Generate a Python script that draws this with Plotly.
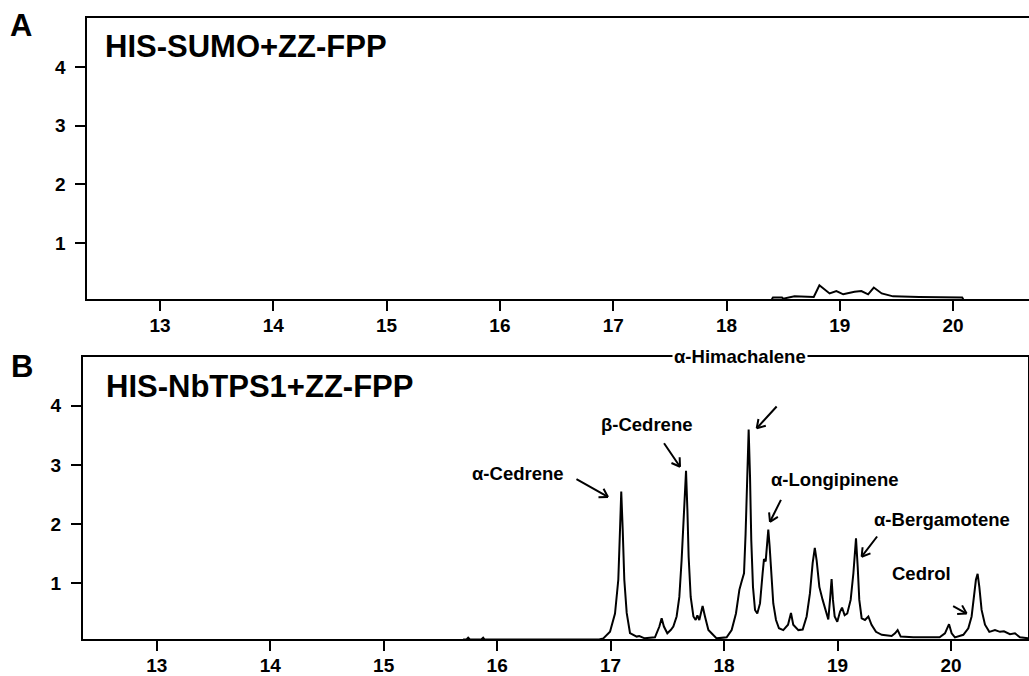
import math
import plotly.graph_objects as go

# ---------------- data ----------------
# Panel A: HIS-SUMO + ZZ-FPP (retention time, min ; abundance)
rt_a = [18.40, 18.41, 18.49, 18.50, 18.60, 18.75, 18.77, 18.82, 18.91, 18.97, 19.03,
        19.13, 19.19, 19.25, 19.30, 19.37, 19.47, 19.70, 20.08, 20.09]
ab_a = [0.04, 0.07, 0.07, 0.05, 0.09, 0.09, 0.08, 0.28, 0.14, 0.18, 0.125,
        0.17, 0.18, 0.125, 0.24, 0.14, 0.09, 0.08, 0.07, 0.04]

# Panel B: HIS-NbTPS1 + ZZ-FPP
rt_b = [15.70, 15.73, 15.745, 15.76, 15.86, 15.877, 15.89, 16.90,
        16.936, 16.995, 17.039, 17.068, 17.083, 17.094, 17.107, 17.121, 17.142, 17.171,
        17.23, 17.253, 17.30, 17.391, 17.43, 17.45, 17.47, 17.50, 17.53,
        17.553, 17.582, 17.606, 17.626, 17.647, 17.665, 17.677, 17.688, 17.706, 17.73,
        17.75, 17.765, 17.782, 17.811, 17.832, 17.862, 17.89, 17.935, 18.023,
        18.067, 18.105, 18.135, 18.155, 18.176, 18.19, 18.205, 18.217, 18.229, 18.24,
        18.255, 18.273, 18.293, 18.317, 18.34, 18.352, 18.367, 18.379, 18.39, 18.402,
        18.417, 18.434, 18.458, 18.484, 18.522, 18.564, 18.59, 18.61, 18.655, 18.693,
        18.728, 18.757, 18.781, 18.80, 18.816, 18.84, 18.869, 18.898, 18.919, 18.934,
        18.948, 18.96, 18.975, 18.998, 19.022, 19.04, 19.063, 19.086, 19.116, 19.14,
        19.163, 19.178, 19.192, 19.213, 19.242, 19.272, 19.30, 19.339, 19.39, 19.477,
        19.507, 19.53, 19.557, 19.668, 19.90, 19.947, 19.983, 20.006, 20.035, 20.109,
        20.153, 20.182, 20.206, 20.22, 20.235, 20.25, 20.27, 20.30, 20.338, 20.388,
        20.432, 20.467, 20.52, 20.564, 20.608, 20.68]
ab_b = [0.05, 0.05, 0.08, 0.05, 0.05, 0.08, 0.05, 0.05,
        0.07, 0.18, 0.49, 1.06, 1.90, 2.55, 1.90, 1.06, 0.50, 0.16,
        0.10, 0.11, 0.07, 0.087, 0.27, 0.41, 0.27, 0.155, 0.21,
        0.27, 0.44, 0.77, 1.39, 2.24, 2.90, 2.24, 1.45, 0.77, 0.44,
        0.38, 0.46, 0.38, 0.617, 0.44, 0.21, 0.155, 0.07, 0.087,
        0.21, 0.49, 0.89, 1.03, 1.17, 1.84, 2.80, 3.60, 2.80, 1.73,
        0.94, 0.55, 0.49, 0.66, 1.17, 1.41, 1.37, 1.67, 1.91, 1.62,
        1.11, 0.66, 0.38, 0.24, 0.21, 0.30, 0.50, 0.30, 0.21, 0.22,
        0.44, 0.83, 1.34, 1.60, 1.39, 0.94, 0.72, 0.55, 0.39, 0.72,
        1.07, 0.72, 0.44, 0.35, 0.52, 0.59, 0.46, 0.49, 0.72, 1.17,
        1.76, 1.28, 0.72, 0.41, 0.38, 0.44, 0.30, 0.18, 0.13, 0.11,
        0.155, 0.21, 0.10, 0.087, 0.087, 0.155, 0.31, 0.155, 0.087, 0.13,
        0.24, 0.44, 0.83, 1.06, 1.16, 0.94, 0.55, 0.30, 0.18, 0.21,
        0.18, 0.19, 0.14, 0.155, 0.087, 0.07]

x_ticks = [13, 14, 15, 16, 17, 18, 19, 20]
y_ticks = [1, 2, 3, 4]

# peak labels (panel B)
compounds = ["α-Cedrene", "β-Cedrene", "α-Himachalene", "α-Longipinene", "α-Bergamotene", "Cedrol"]
label_x = [16.186, 17.32, 18.14, 18.98, 19.925, 19.74]
label_y = [2.86, 3.69, 4.83, 2.76, 2.08, 1.16]
arrow_x = [16.977, 17.612, 18.288, 18.405, 19.213, 20.138]
arrow_y = [2.46, 2.97, 3.62, 2.04, 1.45, 0.49]
arrow_dx = [-33, -17, 21.3, 11.7, 16.6, -15]
arrow_dy = [-18.7, -25, -23.3, -23.4, -21.7, -8.3]

panel_titles = ["HIS-SUMO+ZZ-FPP", "HIS-NbTPS1+ZZ-FPP"]
panel_letters = ["A", "B"]

# ---------------- figure ----------------
W, H = 1029, 676
FONT = "Liberation Sans, Arial, sans-serif"

fig = go.Figure()
fig.add_trace(go.Scatter(x=rt_a, y=ab_a, mode="lines", line=dict(color="black", width=2),
                         xaxis="x", yaxis="y", showlegend=False, hoverinfo="skip"))
fig.add_trace(go.Scatter(x=rt_b, y=ab_b, mode="lines", line=dict(color="black", width=2),
                         xaxis="x2", yaxis="y2", showlegend=False, hoverinfo="skip"))

tickfont = dict(family=FONT, size=19, color="black", weight="bold")
common_x = dict(tickvals=x_ticks, ticks="outside", ticklen=10, tickwidth=2, tickcolor="black",
                showline=True, linewidth=2, linecolor="black", mirror=True, showgrid=False,
                zeroline=False, tickfont=tickfont, ticklabelstandoff=-2, automargin=False)
common_y = dict(tickvals=y_ticks, ticks="outside", ticklen=10, tickwidth=2, tickcolor="black",
                showline=True, linewidth=2, linecolor="black", showgrid=False,
                zeroline=False, tickfont=tickfont, ticklabelstandoff=6, automargin=False)

fig.update_layout(
    template="none",
    width=W, height=H,
    margin=dict(l=0, r=0, t=0, b=0, pad=0),
    paper_bgcolor="white", plot_bgcolor="white",
    xaxis=dict(domain=[87.3 / W, 1.0], range=[12.358, 20.67], anchor="y", **common_x),
    yaxis=dict(domain=[(H - 299.3) / H, (H - 18.3) / H], range=[0.04, 4.83], anchor="x",
               mirror=False, **common_y),
    xaxis2=dict(domain=[83 / W, 1028 / W], range=[12.35, 20.679], anchor="y2", **common_x),
    yaxis2=dict(domain=[(H - 639.3) / H, (H - 356.7) / H], range=[0.054, 4.83], anchor="x2",
                mirror=True, **common_y),
)

annotations = []
# panel letters and titles
letter_pos = [(21, 26), (21.5, 366)]
title_pos = [(103, 46), (104, 386)]
for i in range(2):
    lx, ly = letter_pos[i]
    annotations.append(dict(text=panel_letters[i], xref="paper", yref="paper",
                            x=lx / W, y=1 - ly / H, xanchor="center", yanchor="middle",
                            showarrow=False,
                            font=dict(family=FONT, size=31, color="black", weight="bold")))
    tx, ty = title_pos[i]
    annotations.append(dict(text=panel_titles[i], xref="paper", yref="paper",
                            x=tx / W, y=1 - ty / H, xanchor="left", yanchor="middle",
                            showarrow=False,
                            font=dict(family=FONT, size=31, color="black", weight="bold")))

# peak labels
for name, x, y in zip(compounds, label_x, label_y):
    annotations.append(dict(text=name, x=x, y=y, xref="x2", yref="y2", showarrow=False,
                            xanchor="center", yanchor="middle", bgcolor="white",
                            font=dict(family=FONT, size=18.5, color="black", weight="bold")))

# arrows with open V heads
BARB = 11
ANG = math.radians(32)
for hx, hy, dx, dy in zip(arrow_x, arrow_y, arrow_dx, arrow_dy):
    annotations.append(dict(text="", x=hx, y=hy, xref="x2", yref="y2", ax=dx, ay=dy,
                            showarrow=True, arrowhead=0, arrowwidth=2, arrowcolor="black",
                            standoff=0, startstandoff=0))
    L = math.hypot(dx, dy)
    ux, uy = dx / L, dy / L
    for s in (1, -1):
        c, sn = math.cos(s * ANG), math.sin(s * ANG)
        bx = (ux * c - uy * sn) * BARB
        by = (ux * sn + uy * c) * BARB
        annotations.append(dict(text="", x=hx, y=hy, xref="x2", yref="y2", ax=bx, ay=by,
                                showarrow=True, arrowhead=0, arrowwidth=2, arrowcolor="black",
                                standoff=0, startstandoff=0))

fig.update_layout(annotations=annotations)
fig.write_html("out.html",
               config={"displayModeBar": False},
               post_script="document.body.style.margin='0px';document.body.style.overflow='hidden';")
